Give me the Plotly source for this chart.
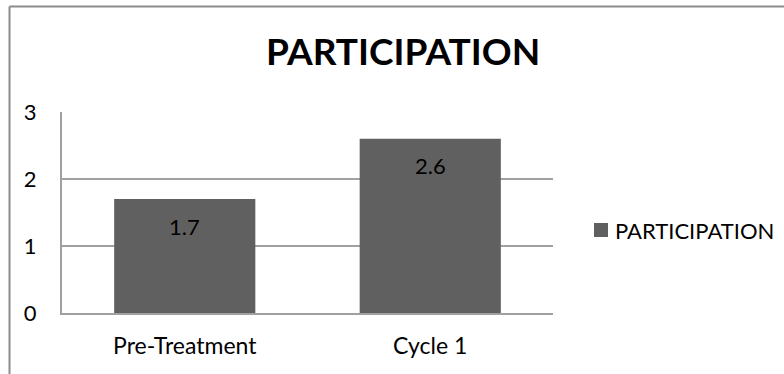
import plotly.graph_objects as go

categories = ["Pre-Treatment", "Cycle 1"]
values = [1.7, 2.6]
series_name = "PARTICIPATION"
title_text = "PARTICIPATION"
y_ticks = [0, 1, 2, 3]

FONT = "Lato"
BAR = "#606060"
GRID = "#a0a0a0"

W, H = 784, 374
L, R, T, B = 62, W - 553, 112, H - 313
pw, ph = W - L - R, H - T - B

def px_x(p):
    return (p - L) / pw

def px_y(p):
    return (H - B - p) / ph

fig = go.Figure()
fig.add_trace(go.Bar(
    x=categories, y=values, name=series_name,
    marker=dict(color=BAR, line=dict(width=0)),
    width=0.575, showlegend=False,
))

for c, v in zip(categories, values):
    fig.add_annotation(x=c, y=v, text=f"{v:g}", showarrow=False,
                       yanchor="middle", yshift=-27,
                       font=dict(family=FONT, size=22, color="#000000"))

fig.add_annotation(xref="paper", yref="paper", x=px_x(403), y=px_y(51),
                   text="<b>" + title_text + "</b>", showarrow=False,
                   xanchor="center", yanchor="middle",
                   font=dict(family=FONT, size=37, color="#000000"))

# legend (swatch + label)
fig.add_shape(type="rect", xref="paper", yref="paper",
              x0=px_x(594), x1=px_x(608), y0=px_y(237), y1=px_y(223),
              fillcolor=BAR, line=dict(width=0))
fig.add_annotation(xref="paper", yref="paper", x=px_x(613), y=px_y(230),
                   text=series_name, showarrow=False,
                   xanchor="left", yanchor="middle",
                   font=dict(family=FONT, size=22, color="#000000"))

# outer frame (left and top edges visible)
frame = dict(color="#8c8c8c", width=2)
fig.add_shape(type="line", xref="paper", yref="paper",
              x0=px_x(9.5), x1=px_x(9.5), y0=px_y(380), y1=px_y(6.5), line=frame)
fig.add_shape(type="line", xref="paper", yref="paper",
              x0=px_x(9.5), x1=px_x(800), y0=px_y(6.5), y1=px_y(6.5), line=frame)

fig.update_layout(
    width=W, height=H,
    margin=dict(l=L, r=R, t=T, b=B, pad=0),
    paper_bgcolor="white", plot_bgcolor="white",
    font=dict(family=FONT, size=23, color="#000000"),
    bargap=0.425,
    showlegend=False,
)
fig.update_xaxes(showgrid=False, showline=True, linecolor=GRID, linewidth=2,
                 ticks="", ticklabelstandoff=11, zeroline=False)
fig.update_yaxes(range=[0, 3], tickvals=y_ticks, showgrid=True, gridcolor=GRID,
                 gridwidth=2, showline=True, linecolor=GRID, linewidth=2,
                 ticks="", ticklabelstandoff=19, zeroline=False,
                 tickfont=dict(size=22))

fig.write_html("out.html")
